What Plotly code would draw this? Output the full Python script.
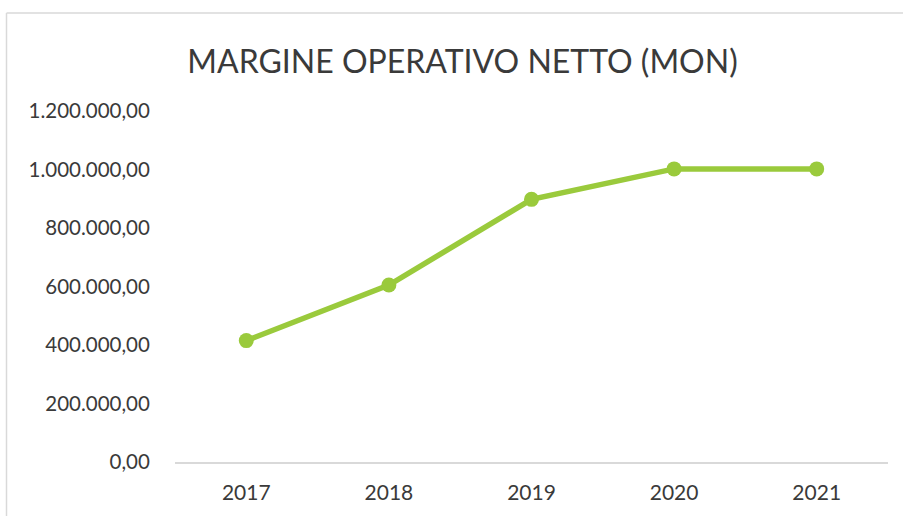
import plotly.graph_objects as go

years = ["2017", "2018", "2019", "2020", "2021"]
mon_values = [415000, 605000, 898000, 1002000, 1002000]
y_tick_values = [0, 200000, 400000, 600000, 800000, 1000000, 1200000]
y_tick_labels = ["0,00", "200.000,00", "400.000,00", "600.000,00",
                 "800.000,00", "1.000.000,00", "1.200.000,00"]
title_text = "MARGINE OPERATIVO NETTO (MON)"

W, H = 903, 516
L, R, T, B = 175, 15, 111, 54
pw = W - L - R
ph = H - T - B

def px_to_paper_x(px):
    return (px - L) / pw

def px_to_paper_y(py):
    return (H - B - py) / ph

fig = go.Figure()
fig.add_trace(go.Scatter(
    x=years, y=mon_values, mode="lines+markers",
    line=dict(color="#9ACA3C", width=5.5),
    marker=dict(color="#9ACA3C", size=15),
    showlegend=False, hoverinfo="skip",
))

fig.update_layout(
    width=W, height=H,
    margin=dict(l=L, r=R, t=T, b=B),
    paper_bgcolor="white", plot_bgcolor="white",
    font=dict(family="Lato, sans-serif", color="#3A3A3A", size=19),
    title=dict(text=title_text, x=462.5 / W, xanchor="center", y=1 - 62 / H, yanchor="middle",
               font=dict(size=32, color="#3A3A3A", family="Lato, sans-serif")),
    xaxis=dict(type="category", range=[-0.5, 4.5], showgrid=False, zeroline=False,
               showline=True, linecolor="#D9D9D9", linewidth=1.5,
               ticks="outside", ticklen=11, tickcolor="rgba(0,0,0,0)",
               tickfont=dict(size=21, color="#3A3A3A")),
    yaxis=dict(range=[0, 1200000], tickvals=y_tick_values, ticktext=y_tick_labels,
               showgrid=False, zeroline=False, showline=False,
               ticks="outside", ticklen=20, tickcolor="rgba(0,0,0,0)",
               tickfont=dict(size=20.5, color="#3A3A3A")),
    shapes=[
        dict(type="line", xref="paper", yref="paper",
             x0=px_to_paper_x(6.5), x1=px_to_paper_x(6.5),
             y0=px_to_paper_y(13), y1=px_to_paper_y(530),
             line=dict(color="#D9D9D9", width=1.5)),
        dict(type="line", xref="paper", yref="paper",
             x0=px_to_paper_x(6.5), x1=px_to_paper_x(920),
             y0=px_to_paper_y(13), y1=px_to_paper_y(13),
             line=dict(color="#D9D9D9", width=1.5)),
    ],
)

fig.write_html("out.html", config={"displayModeBar": False},
               post_script="document.body.style.margin='0';")
